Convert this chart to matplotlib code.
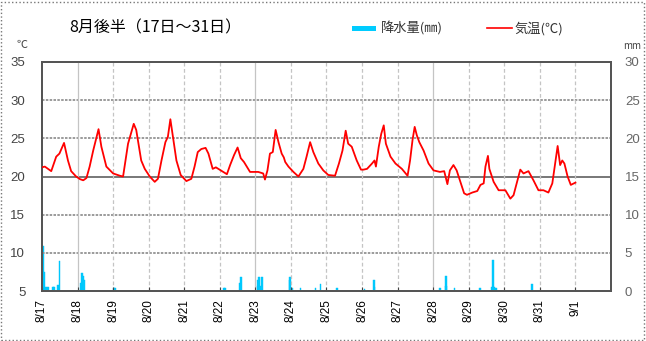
import matplotlib.pyplot as plt
from matplotlib.patches import Rectangle
from matplotlib.lines import Line2D

plt.rcParams['font.family'] = ['Noto Sans CJK JP', 'DejaVu Sans']

# 気温 (℃): 8/17 0時からの経過日数と値
temp_days = [
    0.00, 0.08, 0.17, 0.26, 0.40, 0.49, 0.62, 0.73, 0.82, 0.96,
    1.07, 1.16, 1.25, 1.34, 1.44, 1.59, 1.67, 1.81, 2.00, 2.19,
    2.28, 2.42, 2.58, 2.65, 2.79, 2.89, 3.03, 3.17, 3.26, 3.36,
    3.47, 3.54, 3.61, 3.69, 3.78, 3.90, 4.06, 4.20, 4.29, 4.38,
    4.48, 4.60, 4.68, 4.80, 4.89, 5.03, 5.20, 5.29, 5.40, 5.50,
    5.59, 5.68, 5.85, 5.99, 6.08, 6.22, 6.27, 6.34, 6.41, 6.49,
    6.57, 6.65, 6.74, 6.80, 6.84, 6.93, 7.07, 7.21, 7.35, 7.44,
    7.54, 7.63, 7.77, 7.91, 8.05, 8.24, 8.35, 8.45, 8.54, 8.61,
    8.71, 8.85, 8.97, 9.04, 9.14, 9.28, 9.35, 9.39, 9.47, 9.54,
    9.61, 9.67, 9.80, 9.94, 10.12, 10.28, 10.35, 10.42, 10.48, 10.54,
    10.61, 10.73, 10.87, 11.01, 11.19, 11.31, 11.40, 11.47, 11.57, 11.66,
    11.75, 11.87, 11.95, 12.10, 12.24, 12.33, 12.42, 12.47, 12.54, 12.58,
    12.70, 12.84, 13.03, 13.17, 13.26, 13.36, 13.45, 13.54, 13.68, 13.82,
    13.96, 14.10, 14.24, 14.35, 14.43, 14.50, 14.57, 14.63, 14.69, 14.78,
    14.87, 15.00,
]
temp_vals = [
    21.2, 21.3, 21.0, 20.7, 22.6, 23.0, 24.4, 22.1, 20.7, 20.0,
    19.65, 19.5, 19.8, 21.3, 23.4, 26.2, 23.9, 21.3, 20.4, 20.1,
    20.0, 24.3, 26.9, 26.1, 22.1, 21.0, 20.0, 19.3, 19.7, 22.1,
    24.5, 25.2, 27.5, 25.0, 22.1, 20.2, 19.4, 19.7, 21.3, 23.2,
    23.6, 23.75, 23.0, 21.0, 21.2, 20.8, 20.3, 21.5, 22.8, 23.8,
    22.4, 21.9, 20.6, 20.6, 20.6, 20.4, 19.6, 20.8, 23.0, 23.2,
    26.1, 24.5, 23.0, 22.5, 21.9, 21.3, 20.6, 20.0, 21.0, 22.6,
    24.5, 23.2, 21.7, 20.8, 20.2, 20.1, 21.7, 23.4, 26.0, 24.3,
    23.9, 22.1, 20.9, 20.9, 21.0, 21.7, 22.1, 21.3, 23.9, 25.6,
    26.7, 24.3, 22.6, 21.7, 21.0, 20.1, 22.1, 24.8, 26.5, 25.4,
    24.5, 23.4, 21.7, 20.8, 20.6, 20.7, 19.0, 20.8, 21.5, 20.8,
    19.5, 17.8, 17.6, 17.9, 18.1, 18.9, 19.1, 21.3, 22.7, 21.0,
    19.3, 18.2, 18.2, 17.1, 17.55, 19.3, 20.9, 20.4, 20.7, 19.5,
    18.2, 18.2, 17.9, 19.1, 21.7, 24.0, 21.5, 22.1, 21.7, 20.0,
    18.9, 19.2,
]

# 降水量 (mm)
rain_days = [
    0.02, 0.05, 0.08, 0.12, 0.16, 0.30, 0.34, 0.46, 0.49,
    1.10, 1.12, 1.15, 1.18, 2.02, 2.05, 5.12, 5.15, 5.57, 5.59,
    6.06, 6.08, 6.10, 6.14, 6.18, 6.96, 6.98, 7.04, 7.27, 7.69, 7.83,
    8.30, 9.07, 9.33, 9.35, 11.20, 11.35, 11.37, 11.60, 12.32,
    12.66, 12.68, 12.70, 12.76, 13.77,
]
rain_vals = [
    5.9, 2.5, 0.4, 0.5, 0.5, 0.5, 0.5, 0.8, 3.9,
    1.0, 2.4, 2.0, 1.4, 0.4, 0.4, 0.35, 0.35, 1.0, 1.9,
    0.6, 1.5, 1.9, 0.6, 1.9, 1.5, 1.9, 0.35, 0.35, 0.35, 0.9,
    0.4, 0.3, 1.5, 0.5, 0.4, 0.6, 2.0, 0.4, 0.4,
    0.5, 4.0, 0.5, 0.4, 0.95,
]

date_labels = ['8/17', '8/18', '8/19', '8/20', '8/21', '8/22', '8/23', '8/24',
               '8/25', '8/26', '8/27', '8/28', '8/29', '8/30', '8/31', '9/1']
temp_ticks = [5, 10, 15, 20, 25, 30, 35]
rain_ticks = [0, 5, 10, 15, 20, 25, 30]

fig = plt.figure(figsize=(6.46, 3.41), dpi=100)
ax = fig.add_axes([0.065, 0.1466, 0.8808, 0.6716])
ax2 = ax.twinx()

ax.set_xlim(0, 16)
ax.set_ylim(5, 35)
ax2.set_ylim(0, 30)

# 横の目盛線
for t in temp_ticks[1:-1]:
    if t == 20:
        ax.axhline(t, color='#606060', lw=1.2, zorder=1)
    else:
        ax.axhline(t, color='#8a8a8a', lw=1.2, ls=(0, (1.5, 0.8)), zorder=1)

# 縦の目盛線 (日ごと)
for i in range(1, len(date_labels)):
    if i % 5 == 1:
        ax.axvline(i, color='#c4c4c4', lw=0.9, zorder=1)
    else:
        ax.axvline(i, color='#c4c4c4', lw=0.9, ls=(0, (3, 2)), zorder=1)

ax2.bar(rain_days, rain_vals, width=0.05, color='#00CCFF', edgecolor='#00C0F8',
        lw=0.3, align='center', zorder=2)
ax.plot(temp_days, temp_vals, color='#FF0000', lw=1.3, zorder=3)
ax.set_zorder(ax2.get_zorder() + 1)
ax.patch.set_visible(False)

ax.set_xticks(range(len(date_labels)))
ax.set_xticklabels(date_labels, rotation=90, fontsize=8.5, family=['Liberation Sans', 'DejaVu Sans'])
ax.tick_params(axis='x', direction='in', length=3, color='#444444', pad=6)
ax.set_yticks(temp_ticks)
ax.set_yticklabels([str(t) for t in temp_ticks], fontsize=9.5, color='#444444',
                   family=['Liberation Sans', 'DejaVu Sans'])
ax.tick_params(axis='y', length=0, pad=12)
ax2.set_yticks(rain_ticks)
ax2.set_yticklabels([str(t) for t in rain_ticks], fontsize=9.5, color='#666666',
                    family=['Liberation Sans', 'DejaVu Sans'])
ax2.tick_params(axis='y', length=0, pad=10)

for a in (ax, ax2):
    for s in a.spines.values():
        s.set_color('#555555')
        s.set_linewidth(1.4)

# 見出し・凡例
fig.text(0.240, 0.918, '8月後半（17日～31日）', fontsize=11.5, ha='center', va='center')
fig.text(0.034, 0.868, '℃', fontsize=8, color='#444444', ha='center', va='center')
fig.text(0.978, 0.866, 'mm', fontsize=7, color='#444444', ha='center', va='center')

fig.add_artist(Rectangle((0.545, 0.908), 0.037, 0.016, transform=fig.transFigure,
                         facecolor='#00CCFF', edgecolor='none'))
fig.text(0.590, 0.916, '降水量(㎜)', fontsize=9.5, color='#333333', va='center')
fig.add_artist(Line2D([0.754, 0.792], [0.918, 0.918], transform=fig.transFigure,
                      color='#FF0000', lw=1.2))
fig.text(0.797, 0.916, '気温(℃)', fontsize=9.5, color='#333333', va='center')

# 外枠
fig.add_artist(Rectangle((0.002, 0.004), 0.995, 0.991, transform=fig.transFigure,
                         fill=False, edgecolor='#777777', lw=1.0, ls=':'))

fig.savefig('out.png', dpi=100)
